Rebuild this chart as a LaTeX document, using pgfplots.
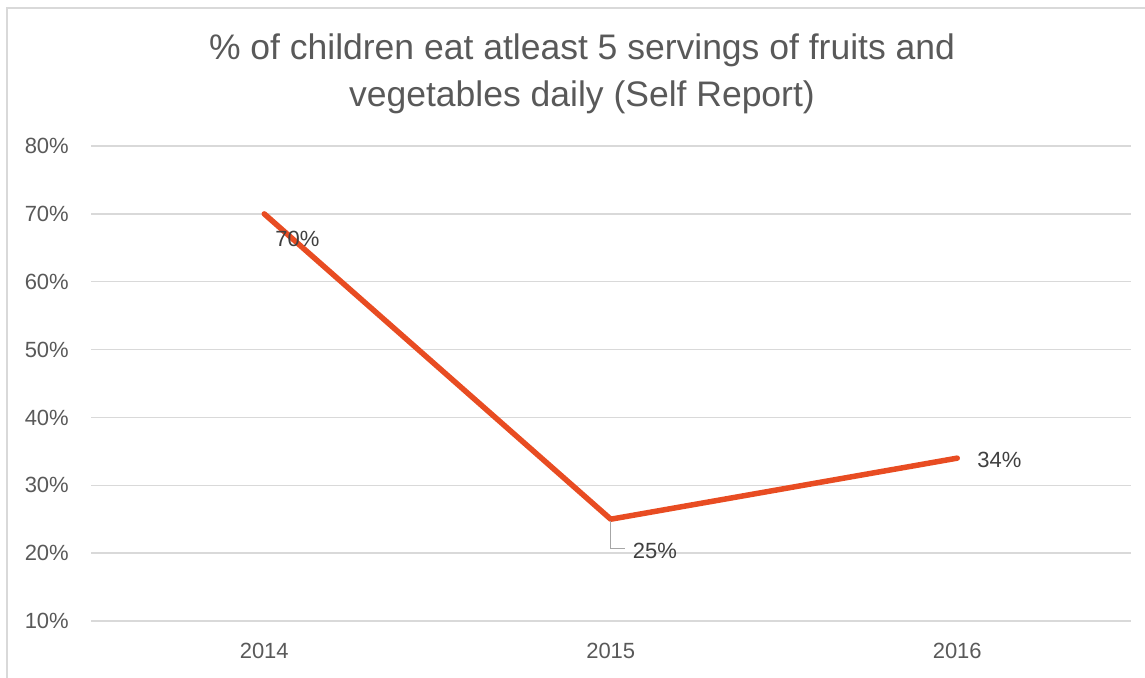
\documentclass[border=0pt]{standalone}
\usepackage{fontspec}
\setmainfont{Liberation Sans}
\usepackage{pgfplots}
\pgfplotsset{compat=1.18}
\definecolor{lineor}{HTML}{E84C22}
\definecolor{gridc}{HTML}{D9D9D9}
\definecolor{txt}{HTML}{595959}
\definecolor{lab}{HTML}{404040}
\definecolor{leader}{HTML}{A6A6A6}
\begin{document}
\begin{tikzpicture}[x=1pt,y=1pt]
\useasboundingbox (0,0) rectangle (1145,677);
\draw[gridc, line width=1.5pt] (7,-2) -- (7,669) -- (1147,669);
\node[txt, align=center, font=\fontsize{35.5}{47}\selectfont] at (582,603.5) {\% of children eat atleast 5 servings of fruits and\\vegetables daily (Self Report)};
\begin{axis}[at={(91pt,56pt)}, anchor=south west, scale only axis,
  width=1039.5pt, height=475pt,
  xmin=-0.5, xmax=2.5, ymin=10, ymax=80,
  xtick={0,1,2}, xticklabels={2014,2015,2016},
  ytick={10,20,...,80},
  ymajorgrids, grid style={gridc, line width=1.5pt},
  axis line style={draw=none}, major tick length=0pt, tick style={draw=none},
  /pgf/number format/assume math mode=true,
  yticklabel={\pgfmathprintnumber{\tick}\%},
  ticklabel style={font=\fontsize{22}{26}\selectfont, text=txt, inner sep=0pt},
  xticklabel style={anchor=north, yshift=-22pt},
  yticklabel style={anchor=east, xshift=-22pt},
  clip=false]
\addplot[lineor, line width=5.5pt, line cap=round, line join=round] coordinates {(0,70) (1,25) (2,34)};
\draw[leader, line width=1.3pt] (axis cs:1,25) ++(0pt,-2pt) -- ++(0pt,-27pt) -- ++(14pt,0pt);
\node[lab, anchor=west, font=\fontsize{22}{26}\selectfont, inner sep=0pt] at (axis cs:0,70) [xshift=11pt, yshift=-25pt] {70\%};
\node[lab, anchor=west, font=\fontsize{22}{26}\selectfont, inner sep=0pt] at (axis cs:1,25) [xshift=22pt, yshift=-32pt] {25\%};
\node[lab, anchor=west, font=\fontsize{22}{26}\selectfont, inner sep=0pt] at (axis cs:2,34) [xshift=20pt, yshift=-2pt] {34\%};
\end{axis}
\end{tikzpicture}
\end{document}
